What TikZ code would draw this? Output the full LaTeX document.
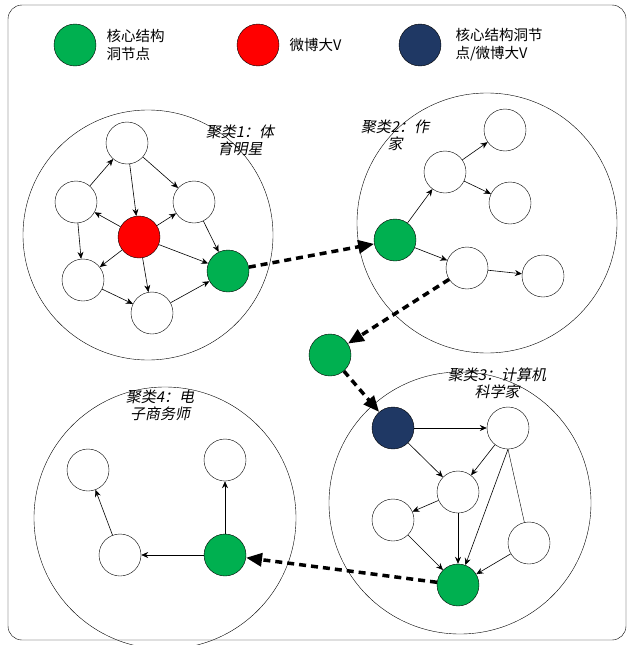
\documentclass[tikz,border=0pt]{standalone}
\usepackage{fontspec}
\newfontfamily\cjk{Noto Sans CJK SC}
\newfontfamily\cjksl[FakeSlant=0.2]{Noto Sans CJK SC}
\usetikzlibrary{arrows.meta}
\definecolor{gn}{RGB}{0,176,80}
\definecolor{bl}{RGB}{31,56,100}
\begin{document}
\begin{tikzpicture}[x=1pt,y=-1pt,
  nd/.style={circle,draw,minimum size=42pt,inner sep=0pt},
  big/.style={circle,draw,inner sep=0pt},
  ar/.style={-{Stealth[length=7pt,width=6pt]},semithick},
  da/.style={-{Triangle[length=16pt,width=13pt]},line width=3.5pt,dash pattern=on 7pt off 5pt},
  lab/.style={font=\cjksl\fontsize{15}{17}\selectfont,align=center},
  lt/.style={font=\cjk\fontsize{14.5}{18}\selectfont,align=left,anchor=west}]
\useasboundingbox (0,0) rectangle (631,645);
\draw[rounded corners=14pt] (8,5) rectangle (626,640);
% legend
\node[nd,fill=gn] (lg1) at (75,45) {};
\node[lt] (lt1) at (103,45) {核心结构\\洞节点};
\node[nd,fill=red] (lg2) at (258,45) {};
\node[lt] (lt2) at (286,45) {微博大V};
\node[nd,fill=bl] (lg3) at (420,45) {};
\node[lt] (lt3) at (452,45) {核心结构洞节\\点/微博大V};
% clusters
\node[big,minimum size=250pt] (C1) at (148,235) {};
\node[big,minimum size=260pt] (C2) at (487,223) {};
\node[big,minimum size=262pt] (C3) at (460,503) {};
\node[big,minimum size=262pt] (C4) at (165,518) {};
\node[lab] (L1) at (240,140) {聚类1：体\\育明星};
\node[lab] (L2) at (395,135) {聚类2：作\\家};
\node[lab] (L3) at (497,383) {聚类3：计算机\\科学家};
\node[lab] (L4) at (160,405) {聚类4：电\\子商务师};
% cluster 1
\node[nd] (a) at (127,143) {};
\node[nd] (b) at (76,202) {};
\node[nd] (d) at (194,202) {};
\node[nd,fill=red] (c) at (139,237) {};
\node[nd,fill=gn] (e) at (228,271) {};
\node[nd] (f) at (83,280) {};
\node[nd] (g) at (152,313) {};
\draw[ar] (b)--(a); \draw[ar] (a)--(d); \draw[ar] (a)--(c);
\draw[ar] (c)--(b); \draw[ar] (c)--(d); \draw[ar] (c)--(e);
\draw[ar] (d)--(e); \draw[ar] (c)--(f); \draw[ar] (c)--(g);
\draw[ar] (b)--(f); \draw[ar] (f)--(g); \draw[ar] (g)--(e);
% cluster 2
\node[nd,fill=gn] (p) at (395,240) {};
\node[nd] (q) at (445,172) {};
\node[nd] (r) at (505,130) {};
\node[nd] (s) at (510,203) {};
\node[nd] (t) at (467,268) {};
\node[nd] (u) at (543,276) {};
\draw[ar] (p)--(q); \draw[ar] (q)--(r); \draw[ar] (q)--(s);
\draw[ar] (p)--(t); \draw[ar] (t)--(u);
% middle
\node[nd,fill=gn] (mid) at (330,355) {};
% cluster 3
\node[nd,fill=bl] (v) at (393,428) {};
\node[nd] (h) at (508,428) {};
\node[nd] (i) at (458,492) {};
\node[nd] (j) at (393,520) {};
\node[nd] (k) at (529,543) {};
\node[nd,fill=gn] (m) at (458,585) {};
\draw[ar] (v)--(h); \draw[ar] (v)--(i); \draw[ar] (h)--(i);
\draw[ar] (h.south)--(m); \draw (h.south)--(k);
\draw[ar] (i)--(j); \draw[ar] (i)--(m); \draw[ar] (j)--(m); \draw[ar] (k)--(m);
% cluster 4
\node[nd] (w) at (88,470) {};
\node[nd] (x) at (225,460) {};
\node[nd,fill=gn] (y) at (225,555) {};
\node[nd] (z) at (120,555) {};
\draw[ar] (y)--(x); \draw[ar] (y)--(z); \draw[ar] (z)--(w);
% dashed
\draw[da] (e)--(p);
\draw[da] (t)--(mid);
\draw[da] (mid)--(v);
\draw[da] (m)--(y);
\end{tikzpicture}
\end{document}
